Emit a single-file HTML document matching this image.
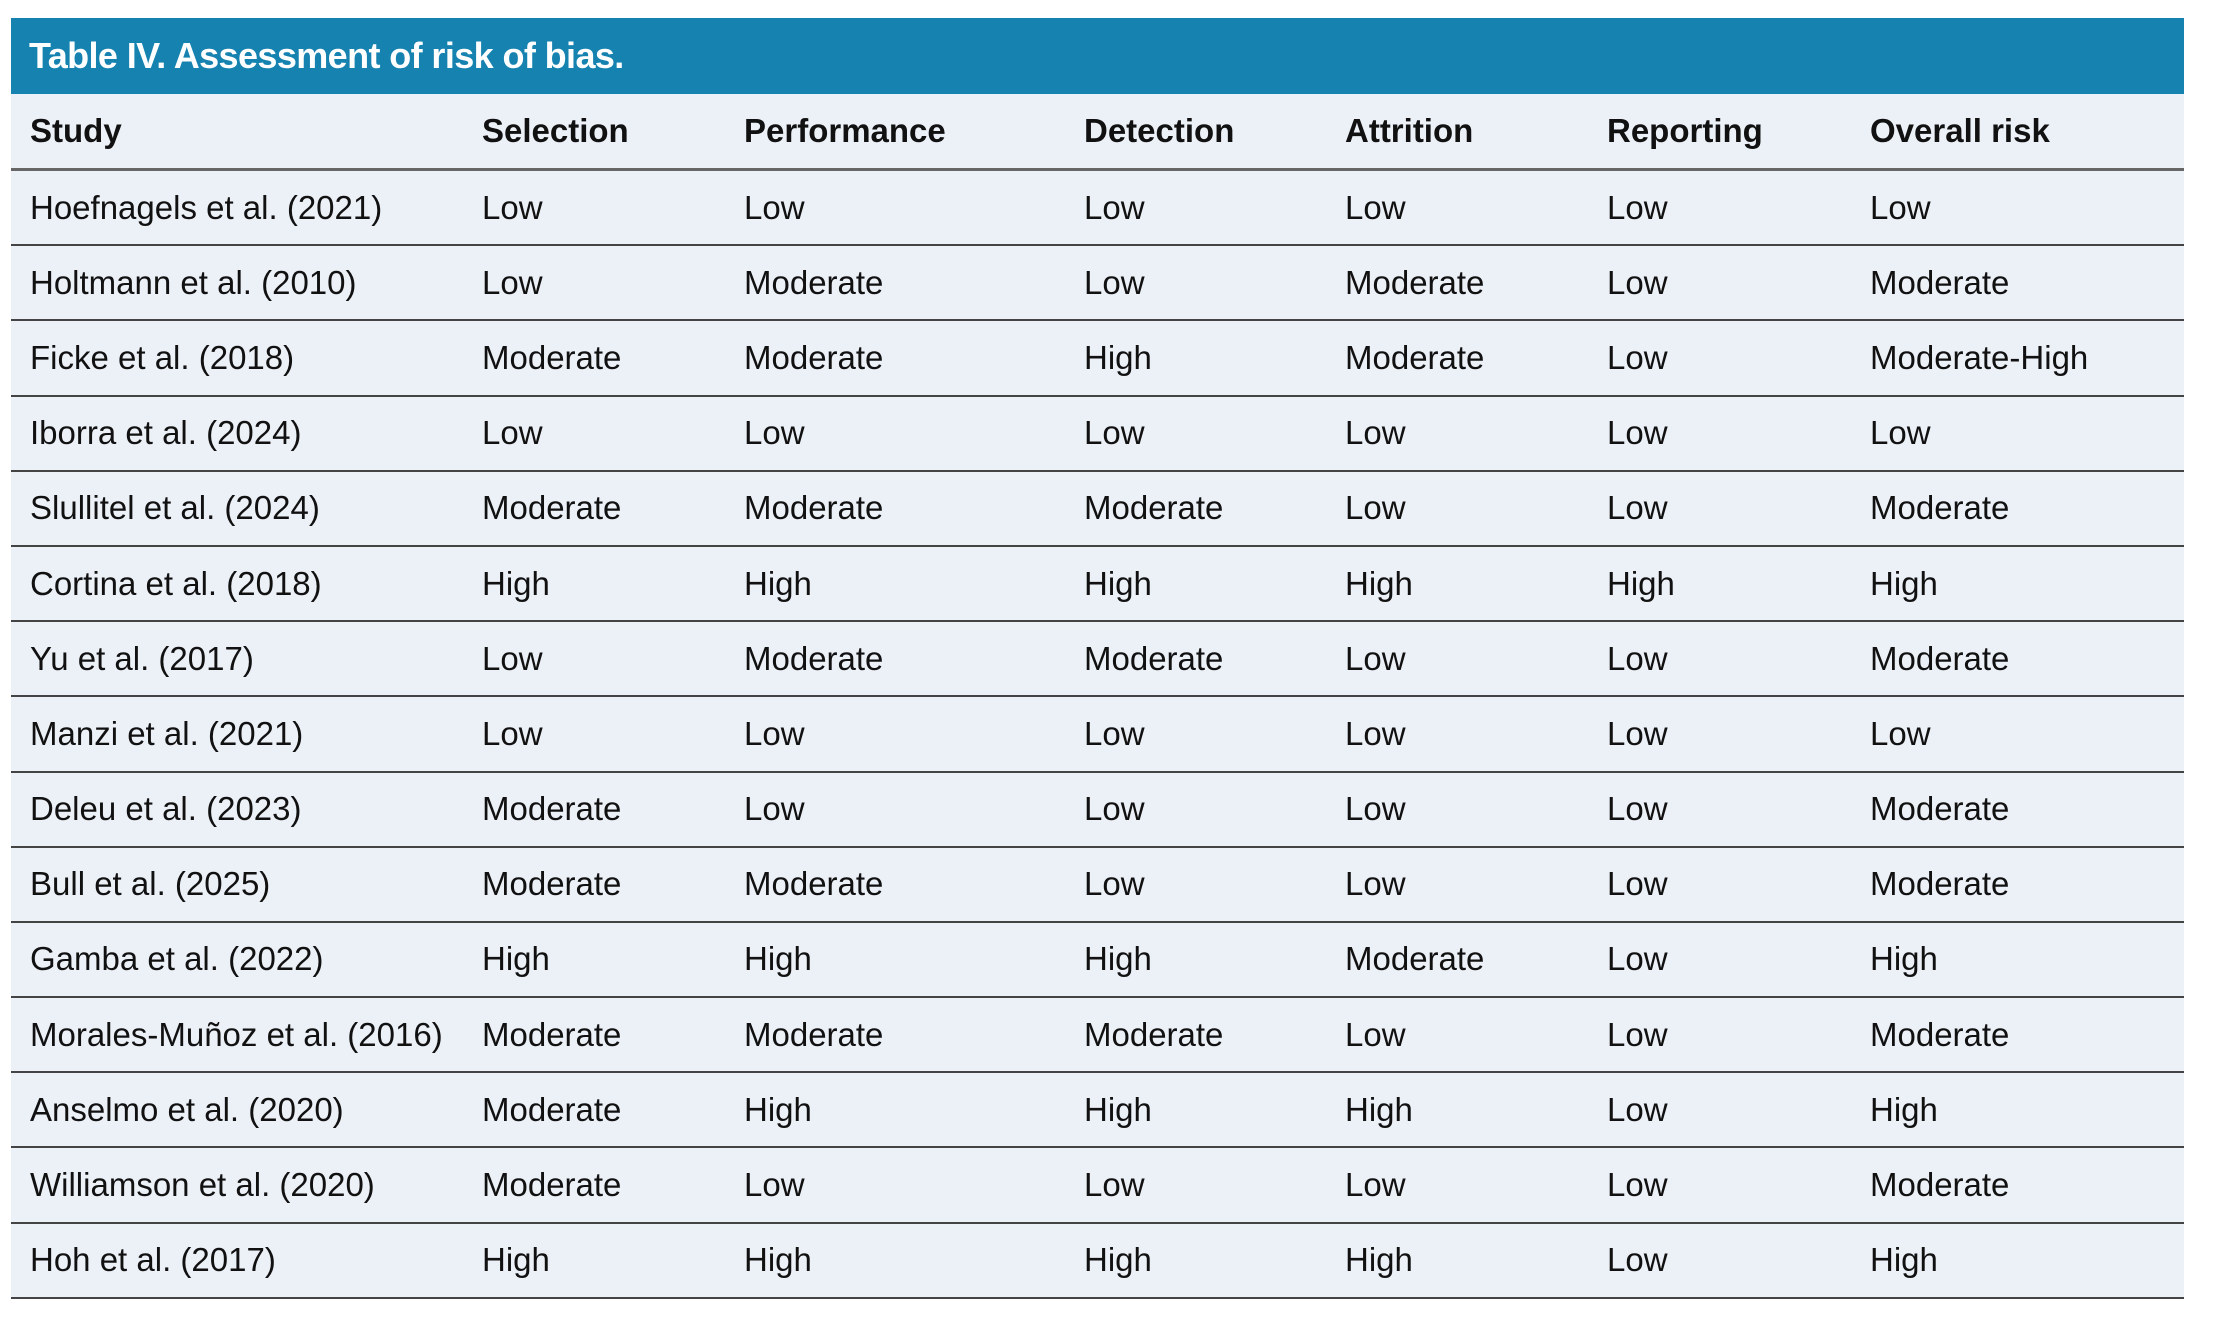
<!DOCTYPE html>
<html><head><meta charset="utf-8"><style>
body{margin:0;width:2222px;height:1321px;background:#fff;position:relative;font-family:"Liberation Sans",sans-serif;overflow:hidden}
.band{position:absolute;left:11px;top:18px;width:2173px;height:76px;background:#1682b0}
.title{position:absolute;left:29px;top:36px;color:#fff;font-weight:bold;font-size:36px;letter-spacing:-0.6px;line-height:40px}
.tbl{position:absolute;left:11px;top:94px;width:2173px;height:1204px;background:#ecf0f7}
table{position:absolute;left:11px;top:94px;width:2173px;border-collapse:collapse;table-layout:fixed}
td{height:73.2px;padding:0;font-size:33px;color:#111;white-space:nowrap;border-bottom:2px solid #444;vertical-align:middle}
td:first-child{text-indent:19px}
tr.h td{font-weight:bold;border-bottom:3px solid #666;height:74px}
</style></head><body>
<div class="band"></div>
<div class="title">Table IV. Assessment of risk of bias.</div>
<div class="tbl"></div>
<table>
<colgroup><col style="width:471px"><col style="width:262px"><col style="width:340px"><col style="width:261px"><col style="width:262px"><col style="width:263px"><col style="width:314px"></colgroup>
<tr class="h"><td>Study</td><td>Selection</td><td>Performance</td><td>Detection</td><td>Attrition</td><td>Reporting</td><td>Overall risk</td></tr>
<tr><td>Hoefnagels et al. (2021)</td><td>Low</td><td>Low</td><td>Low</td><td>Low</td><td>Low</td><td>Low</td></tr>
<tr><td>Holtmann et al. (2010)</td><td>Low</td><td>Moderate</td><td>Low</td><td>Moderate</td><td>Low</td><td>Moderate</td></tr>
<tr><td>Ficke et al. (2018)</td><td>Moderate</td><td>Moderate</td><td>High</td><td>Moderate</td><td>Low</td><td>Moderate-High</td></tr>
<tr><td>Iborra et al. (2024)</td><td>Low</td><td>Low</td><td>Low</td><td>Low</td><td>Low</td><td>Low</td></tr>
<tr><td>Slullitel et al. (2024)</td><td>Moderate</td><td>Moderate</td><td>Moderate</td><td>Low</td><td>Low</td><td>Moderate</td></tr>
<tr><td>Cortina et al. (2018)</td><td>High</td><td>High</td><td>High</td><td>High</td><td>High</td><td>High</td></tr>
<tr><td>Yu et al. (2017)</td><td>Low</td><td>Moderate</td><td>Moderate</td><td>Low</td><td>Low</td><td>Moderate</td></tr>
<tr><td>Manzi et al. (2021)</td><td>Low</td><td>Low</td><td>Low</td><td>Low</td><td>Low</td><td>Low</td></tr>
<tr><td>Deleu et al. (2023)</td><td>Moderate</td><td>Low</td><td>Low</td><td>Low</td><td>Low</td><td>Moderate</td></tr>
<tr><td>Bull et al. (2025)</td><td>Moderate</td><td>Moderate</td><td>Low</td><td>Low</td><td>Low</td><td>Moderate</td></tr>
<tr><td>Gamba et al. (2022)</td><td>High</td><td>High</td><td>High</td><td>Moderate</td><td>Low</td><td>High</td></tr>
<tr><td>Morales-Muñoz et al. (2016)</td><td>Moderate</td><td>Moderate</td><td>Moderate</td><td>Low</td><td>Low</td><td>Moderate</td></tr>
<tr><td>Anselmo et al. (2020)</td><td>Moderate</td><td>High</td><td>High</td><td>High</td><td>Low</td><td>High</td></tr>
<tr><td>Williamson et al. (2020)</td><td>Moderate</td><td>Low</td><td>Low</td><td>Low</td><td>Low</td><td>Moderate</td></tr>
<tr><td>Hoh et al. (2017)</td><td>High</td><td>High</td><td>High</td><td>High</td><td>Low</td><td>High</td></tr>
</table>
</body></html>
